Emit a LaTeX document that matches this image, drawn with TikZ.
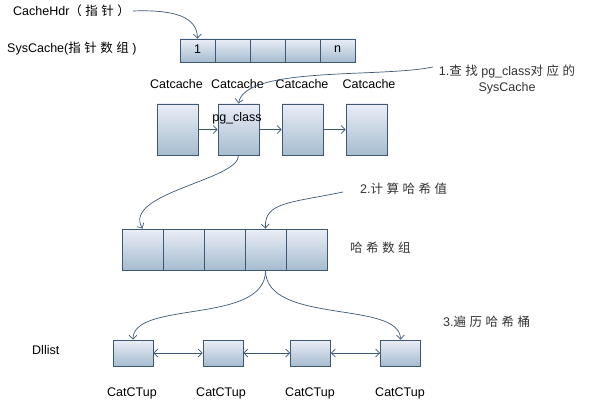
\documentclass[tikz,border=0pt]{standalone}
\usepackage{fontspec}
\setmainfont{Liberation Sans}
\newfontfamily\cjk{Noto Sans CJK SC}
\usetikzlibrary{arrows.meta}
\definecolor{bd}{RGB}{62,88,115}
\definecolor{tp}{RGB}{234,238,247}
\definecolor{bt}{RGB}{166,188,207}
\newcommand{\gp}{\hspace{3.5pt}}
\tikzset{
  cell/.style={draw=bd, line width=0.9pt, top color=tp, bottom color=bt, inner sep=0pt, font=\fontsize{12.5}{14}\selectfont},
  arr/.style={cell, minimum width=35pt, minimum height=23pt},
  cc/.style={cell, minimum width=41pt, minimum height=51pt},
  hc/.style={cell, minimum width=41pt, minimum height=41pt},
  dl/.style={cell, minimum width=40pt, minimum height=26pt},
  conn/.style={draw=bd, line width=0.7pt, -{Straight Barb[length=4pt,width=8pt]}},
  dconn/.style={draw=bd, line width=0.7pt, {Straight Barb[length=4pt,width=8pt]}-{Straight Barb[length=4pt,width=8pt]}},
  lbl/.style={inner sep=0pt, font=\fontsize{12.5}{14}\selectfont},
  clbl/.style={inner sep=0pt, font=\fontsize{12.5}{14}\selectfont, text=black!80}
}
\begin{document}
\begin{tikzpicture}[x=1pt,y=-1pt]
\useasboundingbox (0,0) rectangle (591,406);
% top texts
\node[lbl, anchor=west] (hdr) at (13,11) {CacheHdr{\cjk（\gp 指\gp 针\gp ）}};
\node[lbl, anchor=west] (sys) at (7,49) {SysCache({\cjk 指\gp 针\gp 数\gp 组\gp})};
% SysCache array
\node[arr] (s1) at (197.5,50.5) {\raisebox{3pt}{1}};
\node[arr] (s2) at (232.5,50.5) {};
\node[arr] (s3) at (267.5,50.5) {};
\node[arr] (s4) at (302.5,50.5) {};
\node[arr] (s5) at (337.5,50.5) {\raisebox{3pt}{n}};
\coordinate (hdrend) at (133,11);
\draw[conn] (hdrend) .. controls (185,9) and (197,22) .. (s1.north);
% catcache labels
\node[lbl] (cl1) at (176.5,84) {Catcache};
\node[lbl] (cl2) at (237.5,84) {Catcache};
\node[lbl] (cl3) at (302,84) {Catcache};
\node[lbl] (cl4) at (369,84) {Catcache};
\node[clbl, align=center] (t1) at (507,79) {1.{\cjk 查\gp 找\gp}pg\_class{\cjk 对\gp 应\gp 的}\\[2pt]SysCache};
% catcache boxes
\node[cc] (c1) at (177.5,129.5) {};
\node[cc] (c2) at (238.5,129.5) {};
\node[cc] (c3) at (302.5,129.5) {};
\node[cc] (c4) at (366.5,129.5) {};
\node[lbl] (pg) at (237,118) {pg\_class};
\draw[conn] (c1.east) -- (c2.west);
\draw[conn] (c2.east) -- (c3.west);
\draw[conn] (c3.east) -- (c4.west);
\coordinate (t1start) at (433,67);
\draw[conn] (t1start) .. controls (380,78) and (245,66) .. (c2.north);
% hash array
\node[hc] (h1) at (142.5,249.5) {};
\node[hc] (h2) at (183.5,249.5) {};
\node[hc] (h3) at (224.5,249.5) {};
\node[hc] (h4) at (265.5,249.5) {};
\node[hc] (h5) at (306.5,249.5) {};
\draw[conn] (c2.south) .. controls (239,180) and (122,193) .. (h1.north);
\node[clbl, anchor=west] (t2) at (360,189) {2.{\cjk 计\gp 算\gp 哈\gp 希\gp 值}};
\node[clbl, anchor=west] (hl) at (350,248) {\cjk 哈\gp 希\gp 数\gp 组};
\coordinate (t2start) at (343,192);
\draw[conn] (t2start) .. controls (290,203) and (264,202) .. (h4.north);
% dllist
\node[lbl, anchor=west] (dll) at (32,350) {Dllist};
\node[dl] (d1) at (133,353) {};
\node[dl] (d2) at (223,353) {};
\node[dl] (d3) at (310.5,353) {};
\node[dl] (d4) at (400.5,353) {};
\draw[dconn] (d1.east) -- (d2.west);
\draw[dconn] (d2.east) -- (d3.west);
\draw[dconn] (d3.east) -- (d4.west);
\draw[conn] (h4.south) .. controls (266,325) and (133,300) .. (d1.north);
\draw[conn] (h4.south) .. controls (266,325) and (400,300) .. (d4.north);
\node[clbl, anchor=west] (t3) at (443,322) {3.{\cjk 遍\gp 历\gp 哈\gp 希\gp 桶}};
\node[lbl] (u1) at (132,393) {CatCTup};
\node[lbl] (u2) at (221,393) {CatCTup};
\node[lbl] (u3) at (310,393) {CatCTup};
\node[lbl] (u4) at (400,393) {CatCTup};
\end{tikzpicture}
\end{document}
